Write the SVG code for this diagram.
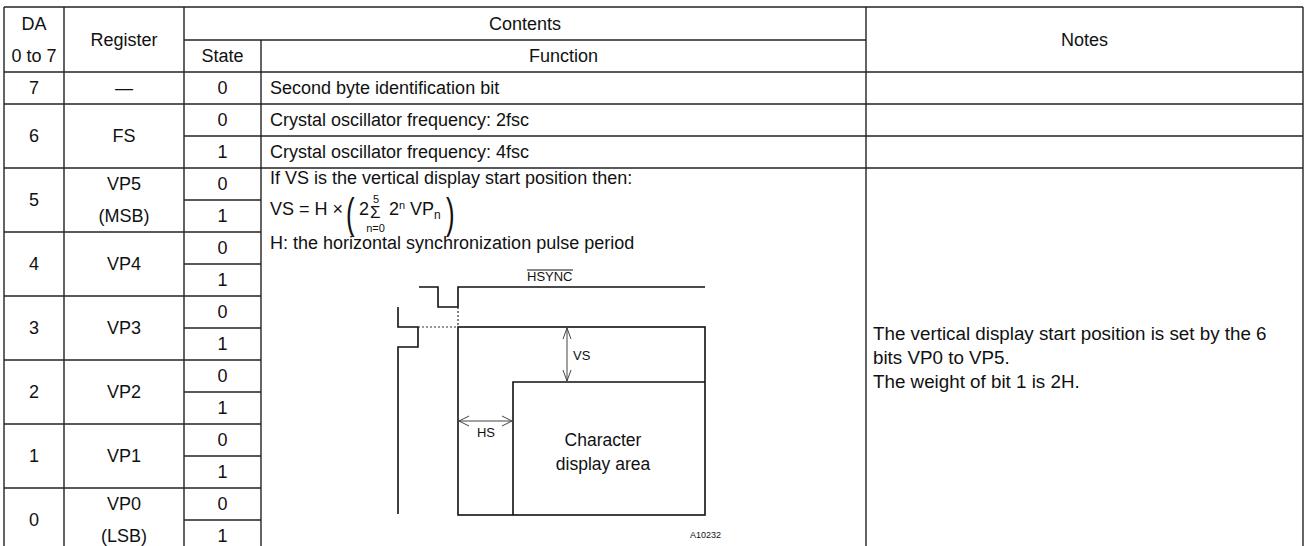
<svg xmlns="http://www.w3.org/2000/svg" width="1306" height="546" viewBox="0 0 1306 546">
<style>
text { font-family: "Liberation Sans", Arial, sans-serif; fill: #111; }
.t { font-size: 18px; }
.c { text-anchor: middle; }
.grid line { stroke: #222; stroke-width: 1.4; }
.fig { fill: none; stroke: #111; stroke-width: 1.6; }
.dash { fill: none; stroke: #333; stroke-width: 1.2; stroke-dasharray: 2 2; }
.arr { fill: none; stroke: #444; stroke-width: 1; }
.sm { font-size: 11px; }
.lab { font-size: 13px; }
.paren { font-size: 43px; }
.note { font-size: 18.8px; }
</style>
<rect width="1306" height="546" fill="#fff"/>

<g id="table-grid" class="grid">
  <line x1="4" y1="7" x2="4" y2="546"/>
  <line x1="64" y1="7" x2="64" y2="546"/>
  <line x1="184" y1="7" x2="184" y2="546"/>
  <line x1="261" y1="40" x2="261" y2="546"/>
  <line x1="866" y1="7" x2="866" y2="546"/>
  <line x1="1303" y1="7" x2="1303" y2="546"/>
  <line x1="4" y1="7" x2="1303" y2="7"/>
  <line x1="184" y1="40" x2="866" y2="40"/>
  <line x1="4" y1="72" x2="1303" y2="72"/>
  <line x1="4" y1="104" x2="1303" y2="104"/>
  <line x1="184" y1="136" x2="1303" y2="136"/>
  <line x1="4" y1="168" x2="1303" y2="168"/>
  <line x1="184" y1="200" x2="261" y2="200"/>
  <line x1="4" y1="232" x2="261" y2="232"/>
  <line x1="184" y1="264" x2="261" y2="264"/>
  <line x1="4" y1="296" x2="261" y2="296"/>
  <line x1="184" y1="328" x2="261" y2="328"/>
  <line x1="4" y1="360" x2="261" y2="360"/>
  <line x1="184" y1="392" x2="261" y2="392"/>
  <line x1="4" y1="424" x2="261" y2="424"/>
  <line x1="184" y1="456" x2="261" y2="456"/>
  <line x1="4" y1="488" x2="261" y2="488"/>
  <line x1="184" y1="520" x2="261" y2="520"/>
</g>

<g id="header" class="t">
  <text class="c" x="34" y="30">DA</text>
  <text class="c" x="34" y="62">0 to 7</text>
  <text class="c" x="124" y="46">Register</text>
  <text class="c" x="525" y="30">Contents</text>
  <text class="c" x="222.5" y="62">State</text>
  <text class="c" x="563.5" y="62">Function</text>
  <text class="c" x="1084.5" y="46">Notes</text>
</g>

<g id="row-7" class="t">
  <text class="c" x="34" y="94">7</text>
  <text class="c" x="124" y="94">—</text>
  <text class="c" x="222.5" y="94">0</text>
  <text x="270" y="94">Second byte identification bit</text>
</g>

<g id="row-6" class="t">
  <text class="c" x="34" y="142">6</text>
  <text class="c" x="124" y="142">FS</text>
  <text class="c" x="222.5" y="126">0</text>
  <text class="c" x="222.5" y="158">1</text>
  <text x="270" y="126">Crystal oscillator frequency: 2fsc</text>
  <text x="270" y="158">Crystal oscillator frequency: 4fsc</text>
</g>

<g id="rows-5-0" class="t">
  <text class="c" x="34" y="206">5</text>
  <text class="c" x="124" y="190">VP5</text>
  <text class="c" x="124" y="222">(MSB)</text>
  <text class="c" x="222.5" y="190">0</text>
  <text class="c" x="222.5" y="222">1</text>
  <text class="c" x="34" y="270">4</text>
  <text class="c" x="124" y="270">VP4</text>
  <text class="c" x="222.5" y="254">0</text>
  <text class="c" x="222.5" y="286">1</text>
  <text class="c" x="34" y="334">3</text>
  <text class="c" x="124" y="334">VP3</text>
  <text class="c" x="222.5" y="318">0</text>
  <text class="c" x="222.5" y="350">1</text>
  <text class="c" x="34" y="398">2</text>
  <text class="c" x="124" y="398">VP2</text>
  <text class="c" x="222.5" y="382">0</text>
  <text class="c" x="222.5" y="414">1</text>
  <text class="c" x="34" y="462">1</text>
  <text class="c" x="124" y="462">VP1</text>
  <text class="c" x="222.5" y="446">0</text>
  <text class="c" x="222.5" y="478">1</text>
  <text class="c" x="34" y="526">0</text>
  <text class="c" x="124" y="510">VP0</text>
  <text class="c" x="124" y="542">(LSB)</text>
  <text class="c" x="222.5" y="510">0</text>
  <text class="c" x="222.5" y="542">1</text>
</g>

<g id="function-vp" class="t">
  <text x="270" y="184">If VS is the vertical display start position then:</text>
  <text x="270" y="215">VS = H ×</text>
  <text class="paren" transform="translate(346,228) scale(0.6,1)">(</text>
  <text x="359" y="215">2</text>
  <text x="370" y="218" style="font-size:17px">Σ</text>
  <text class="c sm" x="376" y="203">5</text>
  <text class="c sm" x="375.5" y="232">n=0</text>
  <text x="389" y="215">2</text>
  <text class="sm" x="399" y="209">n</text>
  <text x="410" y="215">VP</text>
  <text x="434" y="219" style="font-size:12px">n</text>
  <text class="paren" transform="translate(446,228) scale(0.6,1)">)</text>
  <text x="270" y="249">H: the horizontal synchronization pulse period</text>
</g>

<g id="timing-diagram">
  <polyline class="fig" points="419,287 438,287 438,307 458,307 458,287 705,287"/>
  <line x1="527" y1="270" x2="573" y2="270" stroke="#111" stroke-width="1"/>
  <text class="lab" x="527" y="281">HSYNC</text>
  <line class="dash" x1="458" y1="307" x2="458" y2="327"/>
  <polyline class="fig" points="398,307 398,327 418,327 418,347 398,347 398,514"/>
  <line class="dash" x1="418" y1="327" x2="458" y2="327"/>
  <rect class="fig" x="458" y="327" width="247" height="188"/>
  <polyline class="fig" points="513,515 513,382 705,382"/>
  <text class="lab" x="573" y="360">VS</text>
  <text class="lab c" x="486" y="437">HS</text>
  <text class="c" x="603" y="446" style="font-size:17.5px">Character</text>
  <text class="c" x="603" y="470" style="font-size:17.5px">display area</text>
  <text x="690" y="538" style="font-size:9px">A10232</text>
</g>

<g id="connectors">
  <line class="arr" x1="567" y1="328" x2="567" y2="381"/>
  <polyline class="arr" points="563,339 567,328 571,339"/>
  <polyline class="arr" points="563,370 567,381 571,370"/>
  <line class="arr" x1="459" y1="421" x2="512" y2="421"/>
  <polyline class="arr" points="469,416 459,421 469,426"/>
  <polyline class="arr" points="502,416 512,421 502,426"/>
</g>

<g id="notes" class="note">
  <text x="873" y="340">The vertical display start position is set by the 6</text>
  <text x="873" y="364">bits VP0 to VP5.</text>
  <text x="873" y="388">The weight of bit 1 is 2H.</text>
</g>
</svg>
